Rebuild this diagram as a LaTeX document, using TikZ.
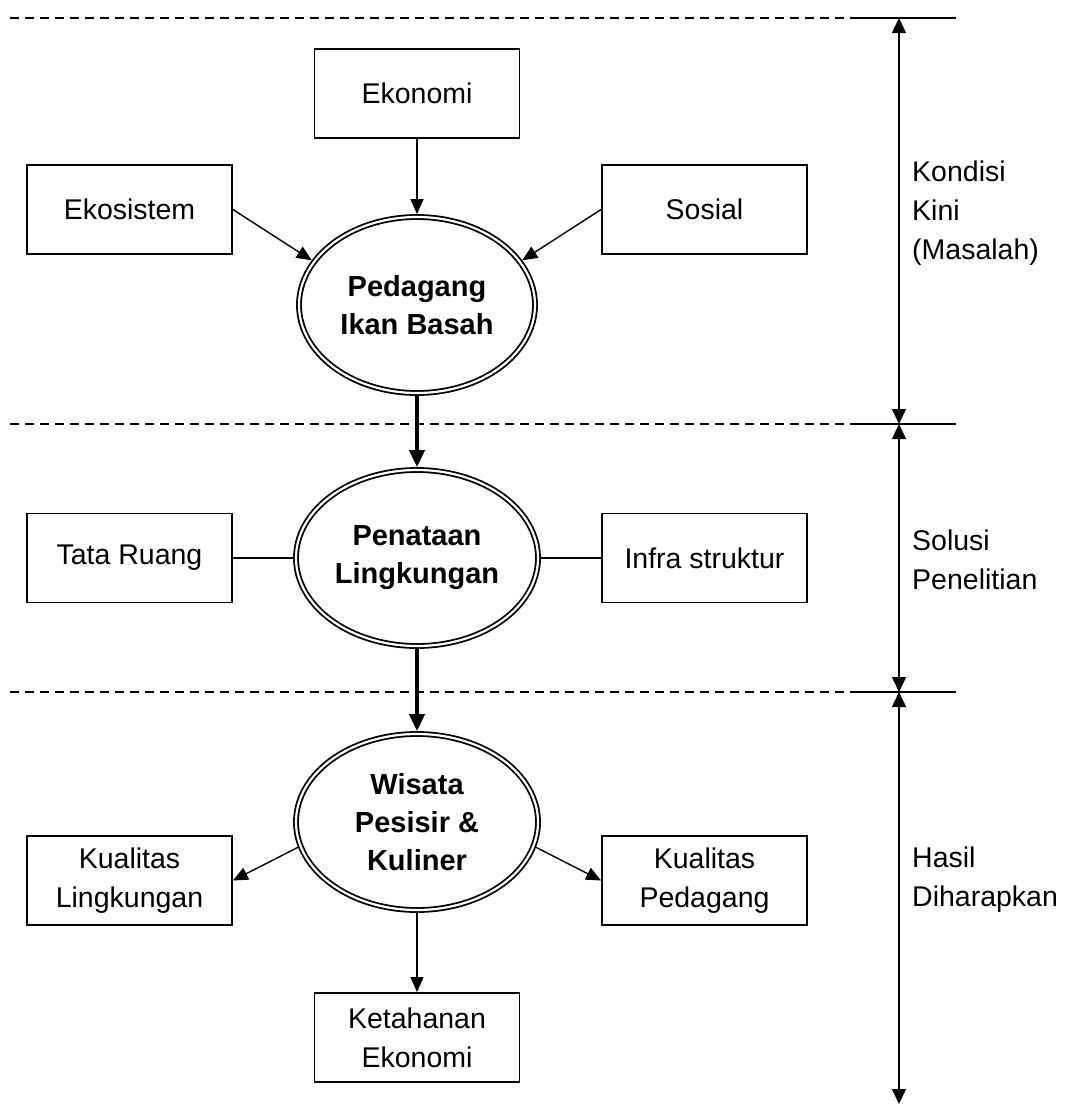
\documentclass[tikz,border=0pt]{standalone}
\usepackage{fontspec}
\setmainfont{Liberation Sans}
\usetikzlibrary{arrows.meta,shapes.geometric}
\begin{document}
\begin{tikzpicture}[x=1pt,y=-1pt,
  box/.style={draw,line width=1.8pt,minimum width=205pt,minimum height=89pt,inner sep=0pt,align=center,font=\fontsize{28.5}{39}\selectfont},
  ell/.style={ellipse,draw,double,line width=1.8pt,double distance=2.2pt,inner sep=0pt,outer sep=2.9pt,align=center,minimum height=176pt,font=\fontsize{29}{38}\selectfont\bfseries},
  conn/.style={line width=1.4pt,-{Triangle[length=15pt,width=13pt]}},
  plain/.style={line width=1.4pt},
  thick conn/.style={line width=4pt,-{Triangle[length=17pt,width=15pt]}},
  dashline/.style={line width=1.3pt,dash pattern=on 9pt off 6pt},
  solidline/.style={line width=1.3pt},
  span/.style={line width=1.5pt,{Triangle[length=15pt,width=14pt]}-{Triangle[length=15pt,width=14pt]}},
  lbl/.style={anchor=west,align=left,inner sep=0pt,font=\fontsize{28.5}{39}\selectfont}
]
\useasboundingbox (0,0) rectangle (1067,1104);

% section separators
\coordinate (d1a) at (10,18);   \coordinate (d1b) at (855,18);  \coordinate (d1c) at (956,18);
\coordinate (d2a) at (10,424);  \coordinate (d2b) at (855,424); \coordinate (d2c) at (956,424);
\coordinate (d3a) at (10,692);  \coordinate (d3b) at (855,692); \coordinate (d3c) at (956,692);
\coordinate (v1) at (899,18);
\coordinate (v2) at (899,424);
\coordinate (v3) at (899,692);
\coordinate (v4) at (899,1104);

\draw[dashline] (d1a) -- (d1b);
\draw[solidline] (d1b) -- (d1c);
\draw[dashline] (d2a) -- (d2b);
\draw[solidline] (d2b) -- (d2c);
\draw[dashline] (d3a) -- (d3b);
\draw[solidline] (d3b) -- (d3c);

\draw[span] (v1) -- (v2);
\draw[span] (v2) -- (v3);
\draw[span] (v3) -- (v4);

% side labels
\node[lbl] (lab1) at (912,213) {Kondisi\\Kini\\(Masalah)};
\node[lbl] (lab2) at (912,560) {Solusi\\Penelitian};
\node[lbl] (lab3) at (912,880) {Hasil\\Diharapkan};

% ellipses
\node[ell,minimum width=236pt] (e1) at (417,305) {Pedagang\\Ikan Basah};
\node[ell,minimum width=242pt] (e2) at (417,558) {Penataan\\Lingkungan};
\node[ell,minimum width=242pt] (e3) at (417,822) {Wisata\\Pesisir \&\\Kuliner};

% boxes
\node[box] (ekon) at (417,93.5) {Ekonomi};
\node[box] (ekos) at (129.5,209.5) {Ekosistem};
\node[box] (sos) at (704.5,209.5) {Sosial};
\node[box] (tr) at (129.5,558) {Tata Ruang};
\node[box] (inf) at (704.5,558) {Infra struktur};
\node[box] (kl) at (129.5,880.5) {Kualitas\\Lingkungan};
\node[box] (kp) at (704.5,880.5) {Kualitas\\Pedagang};
\node[box] (ke) at (417,1037.5) {Ketahanan\\Ekonomi};

% connectors
\draw[conn] (ekon.south) -- (e1.north);
\draw[conn] (ekos.east) -- (e1.157);
\draw[conn] (sos.west) -- (e1.23);
\draw[thick conn] (e1.south) -- (e2.north);
\draw[plain] (tr.east) -- (e2.west);
\draw[plain] (inf.west) -- (e2.east);
\draw[thick conn] (e2.south) -- (e3.north);
\draw[conn] (e3.192) -- (kl.east);
\draw[conn] (e3.-12) -- (kp.west);
\draw[conn] (e3.south) -- (ke.north);
\end{tikzpicture}
\end{document}
